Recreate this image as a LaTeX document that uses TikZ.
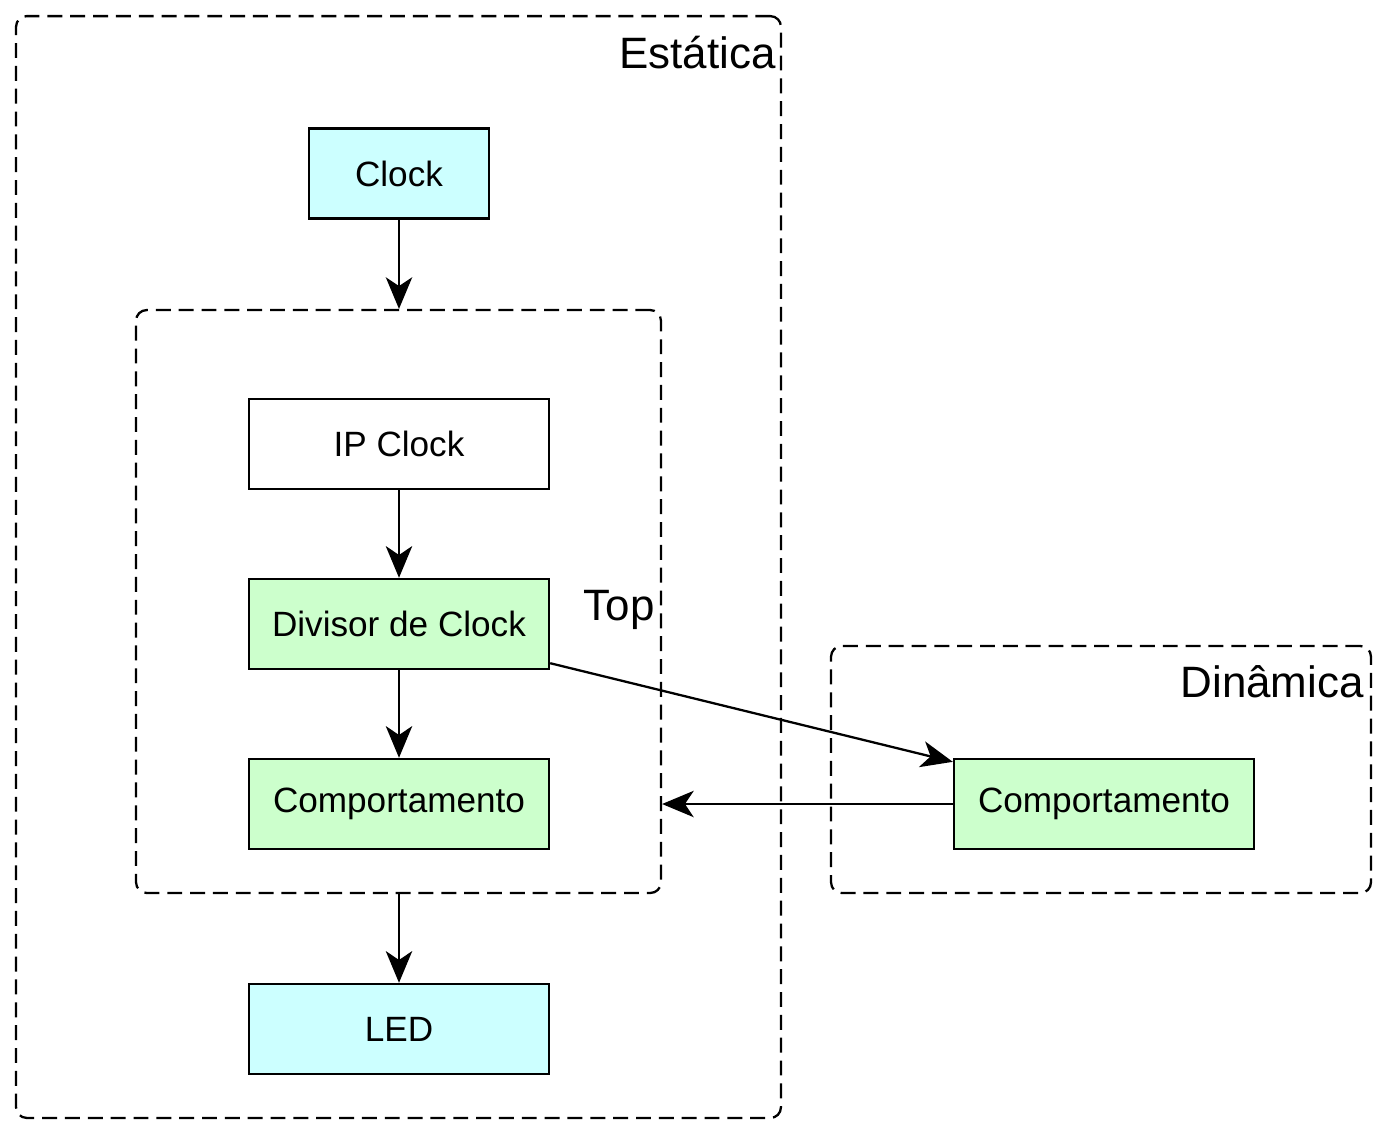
\documentclass[tikz,border=0pt]{standalone}
\usepackage{fontspec}
\setmainfont{Liberation Sans}
\usetikzlibrary{arrows.meta}
\definecolor{cyanbox}{HTML}{CCFFFF}
\definecolor{greenbox}{HTML}{CCFFCC}
\tikzset{
  block/.style={draw, line width=1.4pt, rectangle, inner sep=0pt,
    minimum width=6cm, minimum height=1.8cm, font=\fontsize{20}{24}\selectfont},
  region/.style={draw, line width=1.3pt, rectangle, rounded corners=6pt,
    dash pattern=on 8.5pt off 4.5pt, inner sep=0pt},
  regionlabel/.style={anchor=base east, inner sep=0pt, font=\fontsize{25}{30}\selectfont},
  flow/.style={line width=1.3pt, -{Stealth[length=18pt, width=15pt, inset=5pt]}}
}
\begin{document}
\begin{tikzpicture}[x=0.02cm, y=-0.02cm]
                \useasboundingbox (0,0) rectangle (1386,1134);
                % regions
                \node[region, minimum width=15.3cm, minimum height=22.04cm] (estatica) at (398.5,567) {};
                \node[region, minimum width=10.5cm, minimum height=11.66cm] (top) at (398.5,601.5) {};
                \node[region, minimum width=10.8cm, minimum height=4.94cm] (dinamica) at (1101,769.5) {};
                \node[regionlabel] (estaticalabel) at (776,68) {Estática};
                \node[regionlabel] (toplabel) at (655,620) {Top};
                \node[regionlabel] (dinamicalabel) at (1364,697) {Dinâmica};
                % blocks
                \node[block, fill=cyanbox, minimum width=3.6cm] (clock) at (399,173.5) {Clock};
                \node[block, fill=white] (ipclock) at (399,444) {IP Clock};
                \node[block, fill=greenbox] (divisor) at (399,624) {Divisor de Clock};
                \node[block, fill=greenbox] (comp) at (399,804) {Comportamento};
                \node[block, fill=cyanbox] (led) at (399,1029) {LED};
                \node[block, fill=greenbox] (compdin) at (1104,804) {Comportamento};
                % connections
                \coordinate (divout) at ([yshift=4pt]divisor.south east);
                \coordinate (compin) at ([yshift=-2.3pt]compdin.north west);
                \draw[flow] (clock) -- (clock |- top.north);
                \draw[flow] (ipclock) -- (divisor);
                \draw[flow] (divisor) -- (comp);
                \draw[flow] (led |- top.south) -- (led);
                \draw[flow] (divout) -- (compin);
                \draw[flow] (compdin) -- (top.east |- compdin);
\end{tikzpicture}
\end{document}
